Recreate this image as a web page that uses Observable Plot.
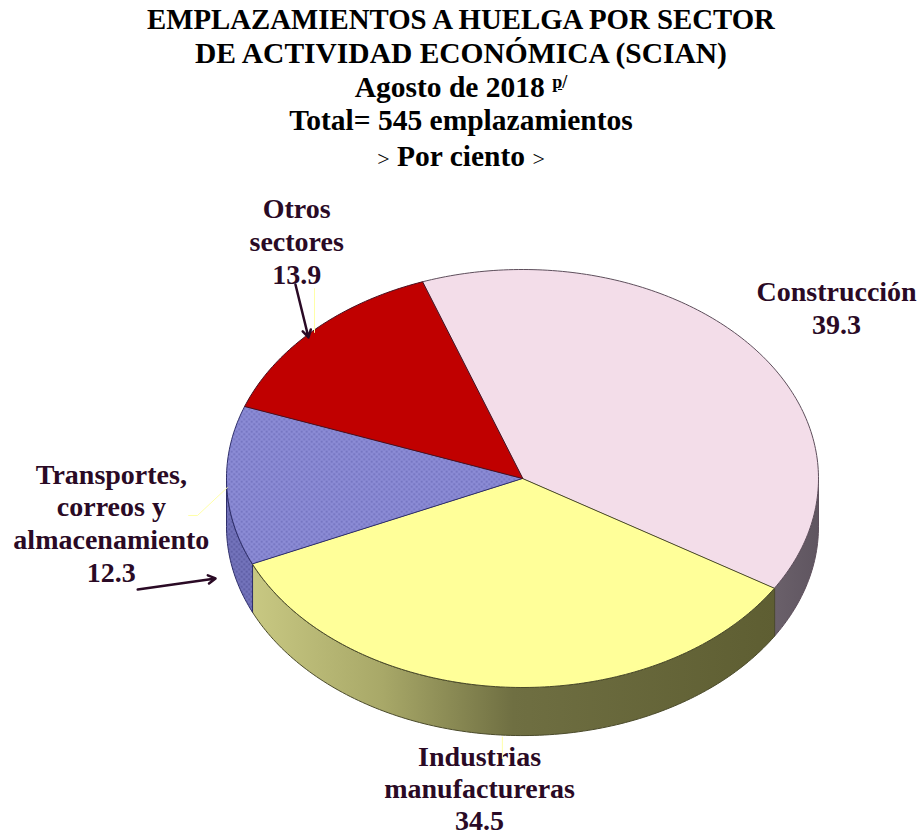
<!DOCTYPE html>
<html lang="es">
<head>
<meta charset="utf-8">
<script src="https://cdn.jsdelivr.net/npm/d3@7"></script>
<script src="https://cdn.jsdelivr.net/npm/@observablehq/plot@0.6"></script>
<style>
html,body{margin:0;padding:0;background:#fff;overflow:hidden}
#head{position:relative;height:175px;width:922px;font-family:"Liberation Serif",serif;font-weight:bold;color:#000;text-align:center;line-height:33px}
#head div{position:absolute;left:0;width:922px;white-space:nowrap}
#head sup{font-size:18px;line-height:0;vertical-align:9px;font-weight:bold}
#head .n{font-weight:normal;font-size:22px}
svg{display:block}
</style>
</head>
<body>
<div id="head">
<div style="top:3px;font-size:28.8px">EMPLAZAMIENTOS A HUELGA POR SECTOR</div>
<div style="top:37px;font-size:29.5px">DE ACTIVIDAD ECONÓMICA (SCIAN)</div>
<div style="top:71px;font-size:29.5px">Agosto de 2018 <sup><u>p</u>/</sup></div>
<div style="top:104px;font-size:29.5px">Total= 545 emplazamientos</div>
<div style="top:140px;font-size:29.5px"><span class="n">&gt;</span> Por ciento <span class="n">&gt;</span></div>
</div>
<script>
const sectors = ["Construcción", "Industrias\nmanufactureras", "Transportes,\ncorreos y\nalmacenamiento", "Otros\nsectores"];
const shares = [39.3, 34.5, 12.3, 13.9];
const topFills = ["#f3dde9", "#ffff99", "url(#dots)", "#c00000"];
const sideFills = ["url(#sideRight)", "url(#sideYellow)", "url(#dotsDark)", "#8a0000"];
const edgeColors = ["#5e4f5c", "#4a4a2a", "#2e2e6a", "#4a1020"];
const labelX = [1.061, -0.145, -1.389, -0.763];
const labelY = [0.823, -1.478, -0.21, 1.139];
const labelLineHeights = [1.18, 1.14, 1.17, 1.17];

const startAngle = -19.8 * Math.PI / 180;
const depth = 0.23;
const arcs = d3.pie().sort(null).startAngle(startAngle).endAngle(startAngle + 2 * Math.PI)(shares);
const rim = (a, drop = 0) => ({x: Math.sin(a), y: Math.cos(a) - drop});
const sample = (a0, a1) => { const n = Math.max(2, Math.ceil(Math.abs(a1 - a0) * 60)); return d3.range(n + 1).map(i => a0 + (a1 - a0) * i / n); };

const topPolys = arcs.map(d => [{x: 0, y: 0}, ...sample(d.startAngle, d.endAngle).map(a => rim(a))]);
const sidePolys = arcs.map(d => {
  const a0 = Math.max(d.startAngle, Math.PI / 2), a1 = Math.min(d.endAngle, 3 * Math.PI / 2);
  if (a1 <= a0) return [];
  const s = sample(a0, a1);
  return [...s.map(a => rim(a)), ...s.slice().reverse().map(a => rim(a, depth))];
});

const texts = sectors.map((s, i) => ({t: `${s}\n${shares[i].toFixed(1)}`, x: labelX[i], y: labelY[i], lh: labelLineHeights[i]}));
const arrows = [
  {x1: -0.767, y1: 0.928, x2: -0.723, y2: 0.675},
  {x1: -1.30, y1: -0.531, x2: -1.037, y2: -0.478}
];
const leaders = [
  [{x: -0.7027, y: 0.909}, {x: -0.7027, y: 0.699}],
  [{x: -1.128, y: -0.177}, {x: -1.098, y: -0.177}, {x: -0.997, y: -0.043}],
  [{x: -0.068, y: -1.237}, {x: -0.068, y: -1.34}]
];

const svg = Plot.plot({
  width: 922, height: 656, margin: 0,
  x: {domain: [-1, 1], range: [226, 818], axis: null},
  y: {domain: [-1, 1], range: [512, 94], axis: null},
  marks: [
    ...sidePolys.map((p, i) => Plot.line(p, {x: "x", y: "y", curve: "linear-closed", fill: sideFills[i], stroke: edgeColors[i], strokeWidth: 1})),
    ...topPolys.map((p, i) => Plot.line(p, {x: "x", y: "y", curve: "linear-closed", fill: topFills[i], stroke: edgeColors[i], strokeWidth: 1})),
    ...texts.map(d => Plot.text([d], {x: "x", y: "y", text: "t", fontFamily: "Liberation Serif", fontWeight: "bold", fontSize: 28, lineHeight: d.lh, fill: "#2a0a25"})),
    ...leaders.map(p => Plot.line(p, {x: "x", y: "y", stroke: "#ffffa8", strokeWidth: 1})),
    Plot.arrow(arrows, {x1: "x1", y1: "y1", x2: "x2", y2: "y2", stroke: "#2a0a25", strokeWidth: 2.5, headLength: 5})
  ]
});
svg.insertAdjacentHTML("afterbegin", `<defs>
<pattern id="dots" width="5" height="5" patternUnits="userSpaceOnUse"><rect width="5" height="5" fill="#8c8cd6"/><circle cx="1.2" cy="1.2" r="1" fill="#6c6cb8"/><circle cx="3.7" cy="3.7" r="1" fill="#6c6cb8"/></pattern>
<pattern id="dotsDark" width="5" height="5" patternUnits="userSpaceOnUse"><rect width="5" height="5" fill="#7474bc"/><circle cx="1.2" cy="1.2" r="1" fill="#55559c"/><circle cx="3.7" cy="3.7" r="1" fill="#55559c"/></pattern>
<linearGradient id="sideYellow" x1="0" x2="1" y1="0" y2="0"><stop offset="0" stop-color="#c8c882"/><stop offset="0.25" stop-color="#a8a868"/><stop offset="0.5" stop-color="#6f6f42"/><stop offset="1" stop-color="#5e5e32"/></linearGradient>
<linearGradient id="sideRight" x1="0" x2="1" y1="0" y2="0"><stop offset="0" stop-color="#6a606a"/><stop offset="1" stop-color="#5f5560"/></linearGradient>
</defs>`);
document.body.appendChild(svg);
</script>
</body>
</html>
